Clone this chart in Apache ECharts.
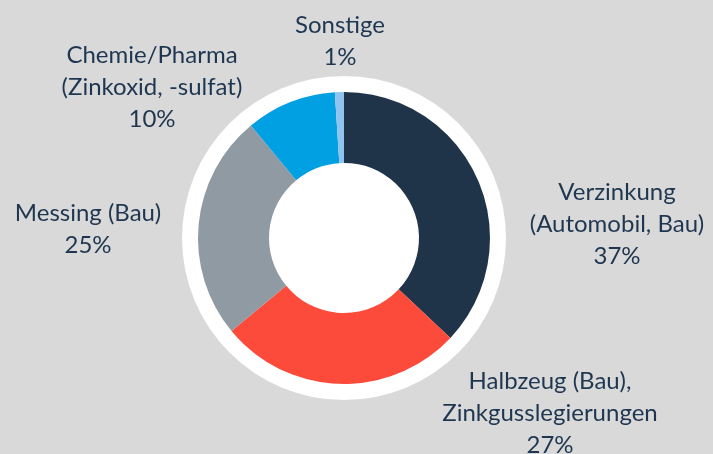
<!DOCTYPE html>
<html><head><meta charset="utf-8">
<script src="https://cdn.jsdelivr.net/npm/echarts@6/dist/echarts.min.js"></script>
<style>html,body{margin:0;padding:0;background:#d9d9d9;}#c{width:713px;height:454px;}</style>
</head><body><div id="c"></div>
<script>
const categories = ["Verzinkung\n(Automobil, Bau)", "Halbzeug (Bau),\nZinkgusslegierungen", "Messing (Bau)", "Chemie/Pharma\n(Zinkoxid, -sulfat)", "Sonstige"];
const shares = [37, 27, 25, 10, 1];
const colors = ["#1f3349", "#fc4b3b", "#909aa3", "#00a0e3", "#8ec4ee"];
const labelPos = [[617, 224], [550, 413], [88, 229], [152, 87], [340, 41]];

const chart = echarts.init(document.getElementById('c'), null, {renderer: 'canvas'});
chart.setOption({
  backgroundColor: '#d9d9d9',
  animation: false,
  series: [
    {
      type: 'pie', silent: true, center: [344, 238], radius: [0, 162],
      label: {show: false}, labelLine: {show: false}, z: 1,
      data: [{value: 1, itemStyle: {color: '#ffffff'}}]
    },
    {
      type: 'pie', center: [344, 238], radius: [75, 146], startAngle: 90, clockwise: true,
      z: 2,
      data: categories.map((n, i) => ({name: n, value: shares[i], itemStyle: {color: colors[i]}})),
      itemStyle: {borderWidth: 0},
      label: {
        show: true, position: 'outside', formatter: '{b}\n{c}%', overflow: 'none',
        color: '#1f3650', fontFamily: 'Lato', fontSize: 24, lineHeight: 32, align: 'center'
      },
      labelLine: {show: false},
      labelLayout: function (p) {
        const pos = labelPos[p.dataIndex];
        return {x: pos[0], y: pos[1], align: 'center', verticalAlign: 'middle'};
      }
    }
  ]
});
</script></body></html>
